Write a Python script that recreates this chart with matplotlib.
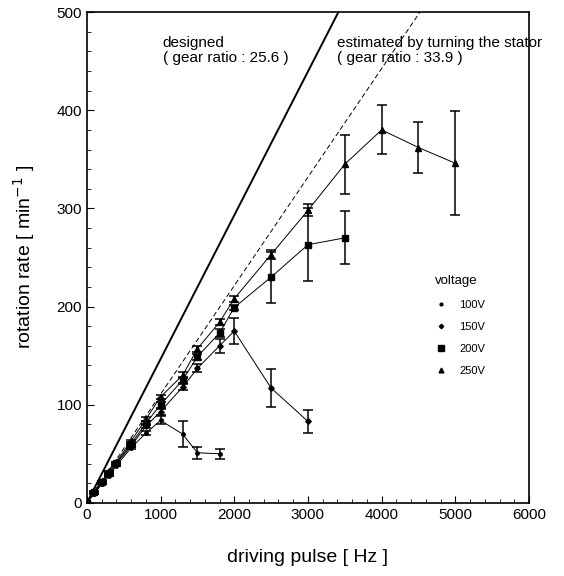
import matplotlib
matplotlib.use("Agg")
import matplotlib.pyplot as plt
from matplotlib.ticker import MultipleLocator
import numpy as np

plt.rcParams['font.family'] = ['Liberation Sans', 'DejaVu Sans']

# measured data (driving pulse [Hz], rotation rate [min-1], error)
f100 = [0, 100, 200, 300, 400, 600, 800, 1000, 1300, 1500, 1800]
r100 = [0, 9, 19, 27, 38, 56, 71, 84, 70, 51, 50]
e100 = [0, 0, 0, 0, 0, 1, 2, 4, 13, 6, 5]

f150 = [0, 100, 200, 300, 400, 600, 800, 1000, 1300, 1500, 1800, 2000, 2500, 3000]
r150 = [0, 10, 20, 29, 40, 58, 78, 93, 118, 137, 160, 175, 117, 83]
e150 = [0, 0, 0, 0, 0, 1, 2, 3, 3, 4, 7, 13, 19, 12]

f200 = [0, 100, 200, 300, 400, 600, 800, 1000, 1300, 1500, 1800, 2000, 2500, 3000, 3500]
r200 = [0, 11, 21, 30, 41, 60, 81, 100, 125, 149, 173, 199, 230, 263, 270]
e200 = [0, 0, 0, 0, 0, 1, 2, 3, 3, 3, 4, 3, 26, 37, 27]

f250 = [0, 100, 200, 300, 400, 600, 800, 1000, 1300, 1500, 1800, 2000,
        2500, 3000, 3500, 4000, 4500, 5000]
r250 = [0, 12, 22, 32, 42, 63, 85, 108, 130, 157, 184, 208,
        253, 298, 345, 380, 362, 346]
e250 = [0, 0, 0, 0, 0, 1, 2, 2, 3, 3, 3, 3, 5, 6, 30, 25, 26, 53]

labels = ["100V", "150V", "200V", "250V"]
gear_designed = 25.6
gear_estimated = 33.9
k = 60.0 / 16.0  # rate = f * k / gear

fig = plt.figure(figsize=(5.64, 5.76), dpi=100)
ax = fig.add_axes([0.154, 0.127, 0.784, 0.852])

# theoretical lines
fx = np.array([0, 6000])
ax.plot(fx, fx * k / gear_designed, color="black", lw=1.4)
ax.plot(fx, fx * k / gear_estimated, color="black", lw=0.7, dashes=(5, 3))

series = [(f100, r100, e100, "o", 2.5),
          (f150, r150, e150, "D", 2.8),
          (f200, r200, e200, "s", 5.0),
          (f250, r250, e250, "^", 4.3)]
handles = []
for (fx_, ry, ey, mk, ms), lab in zip(series, labels):
    ax.errorbar(fx_, ry, yerr=ey, color="black", lw=0.7, elinewidth=1.1,
                capsize=3.5, capthick=1.1, marker=mk, ms=ms)
    h, = ax.plot([], [], ls="none", marker=mk, ms=ms * 0.8, color="black", label=lab)
    handles.append(h)

leg = ax.legend(handles=handles, title="voltage", loc="upper left",
                bbox_to_anchor=(0.775, 0.475), frameon=False, fontsize=8,
                title_fontsize=9.5, handlelength=1.0, handletextpad=1.2,
                labelspacing=1.1, borderpad=0)
leg._legend_box.align = "left"

ax.text(1030, 476, "designed\n( gear ratio : 25.6 )", fontsize=11,
        va="top", ha="left", linespacing=1.1)
ax.text(3400, 476, "estimated by turning the stator\n( gear ratio : 33.9 )",
        fontsize=11, va="top", ha="left", linespacing=1.1)

ax.set_xlim(0, 6000)
ax.set_ylim(0, 500)
ax.xaxis.set_major_locator(MultipleLocator(1000))
ax.xaxis.set_minor_locator(MultipleLocator(200))
ax.yaxis.set_major_locator(MultipleLocator(100))
ax.yaxis.set_minor_locator(MultipleLocator(20))
ax.tick_params(which="both", direction="in", labelsize=11)
ax.tick_params(which="major", length=5)
ax.tick_params(which="minor", length=3)
for s in ax.spines.values():
    s.set_linewidth(1.2)

ax.set_xlabel("driving pulse [ Hz ]", fontsize=14, labelpad=20)
ax.set_ylabel("rotation rate [ min$^{-1}$ ]", fontsize=14, labelpad=14)

fig.savefig("out.png", dpi=100)
